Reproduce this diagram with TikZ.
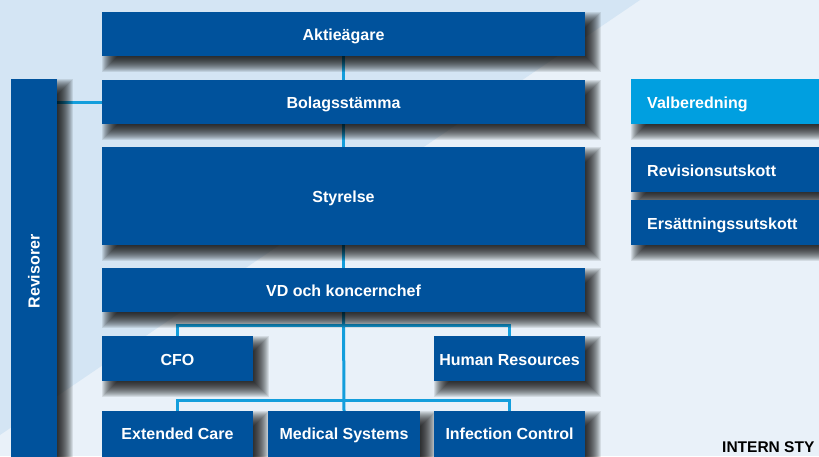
\documentclass[tikz,border=0pt]{standalone}
\usepackage{fontspec}
\setmainfont{Liberation Sans}
\definecolor{boxblue}{HTML}{00529C}
\definecolor{lightbox}{HTML}{009FE0}
\definecolor{linecol}{HTML}{139EDC}
\definecolor{bgdark}{HTML}{D4E5F4}
\definecolor{bglight}{HTML}{E9F1F9}
\pgfdeclarelayer{bglayer}
\pgfdeclarelayer{lineslayer}
\pgfdeclarelayer{shadowlayer}
\pgfsetlayers{bglayer,lineslayer,shadowlayer,main}
\tikzset{
  orgbox/.style={fill=boxblue, draw=none, text=white, inner sep=0pt,
    font=\bfseries\fontsize{16}{19}\selectfont, text height=14pt, text depth=0.5pt},
  lowbox/.style={orgbox, text height=9pt, text depth=0.5pt},
  sidebox/.style={orgbox, anchor=north west, text width=167pt, inner xsep=16pt,
    minimum height=45pt, align=left},
  conn/.style={draw=linecol, line width=3pt},
  shadowlayerstyle/.style={fill=black, opacity=0.09}
}
\newcommand{\boxshadow}[1]{%
  \foreach \e in {-8,-7,...,8}{%
    \fill[shadowlayerstyle] ([shift={(8-\e,8-\e)}]#1.north west) rectangle ([shift={(8+\e,8+\e)}]#1.south east);}}
\begin{document}
\begin{tikzpicture}[x=1pt,y=-1pt]
\useasboundingbox (0,0) rectangle (819,456);
% nodes
\node[orgbox, minimum width=483pt, minimum height=44pt] (akt) at (343.5,34) {Aktieägare};
\node[orgbox, minimum width=483pt, minimum height=44pt] (bol) at (343.5,102) {Bolagsstämma};
\node[orgbox, minimum width=483pt, minimum height=98pt] (sty) at (343.5,196) {Styrelse};
\node[orgbox, minimum width=483pt, minimum height=44pt] (vd) at (343.5,290) {VD och koncernchef};
\node[orgbox, minimum width=151pt, minimum height=45pt] (cfo) at (177.5,358.5) {CFO};
\node[orgbox, minimum width=151pt, minimum height=45pt] (hr) at (509.5,358.5) {Human Resources};
\node[lowbox, minimum width=151pt, minimum height=49pt] (ext) at (177.5,435.5) {Extended Care};
\node[lowbox, minimum width=152pt, minimum height=49pt] (med) at (344,435.5) {Medical Systems};
\node[lowbox, minimum width=151pt, minimum height=49pt] (inf) at (509.5,435.5) {Infection Control};
\node[orgbox, minimum width=46pt, minimum height=385pt] (rev) at (34,271.5) {};
\node[text=white, font=\bfseries\fontsize{16}{19}\selectfont, rotate=90] (revt) at (rev.center) {Revisorer};
\node[sidebox, fill=lightbox] (val) at (631,79) {Valberedning};
\node[sidebox] (revu) at (631,147) {Revisionsutskott};
\node[sidebox] (ers) at (631,200) {Ersättningssutskott};
\node[anchor=base west, inner sep=0pt, font=\bfseries\fontsize{15.5}{19}\selectfont, text=black] (intern) at (722,452) {INTERN STY};
% junction coordinates
\coordinate (j1) at (344,325);
\coordinate (j2) at (344,400);
% shadows
\begin{pgfonlayer}{shadowlayer}
\boxshadow{akt}\boxshadow{bol}\boxshadow{sty}\boxshadow{vd}
\boxshadow{cfo}\boxshadow{hr}\boxshadow{ext}\boxshadow{med}\boxshadow{inf}
\boxshadow{rev}\boxshadow{val}\boxshadow{revu}\boxshadow{ers}
\end{pgfonlayer}
% connectors
\begin{pgfonlayer}{lineslayer}
\draw[conn] (akt.south) -- (bol.north);
\draw[conn] (bol.south) -- (sty.north);
\draw[conn] (sty.south) -- (vd.north);
\draw[conn] (vd.south) -- (med.north);
\draw[conn] (rev.east |- bol.west) -- (bol.west);
\draw[conn] (cfo.north) |- (j1) -| (hr.north);
\draw[conn] (ext.north) |- (j2) -| (inf.north);
\end{pgfonlayer}
% background
\begin{pgfonlayer}{bglayer}
\fill[bglight] (0,0) rectangle (819,456);
\fill[bgdark] (0,0) -- (640,0) -- (0,435) -- cycle;
\end{pgfonlayer}
\end{tikzpicture}
\end{document}
